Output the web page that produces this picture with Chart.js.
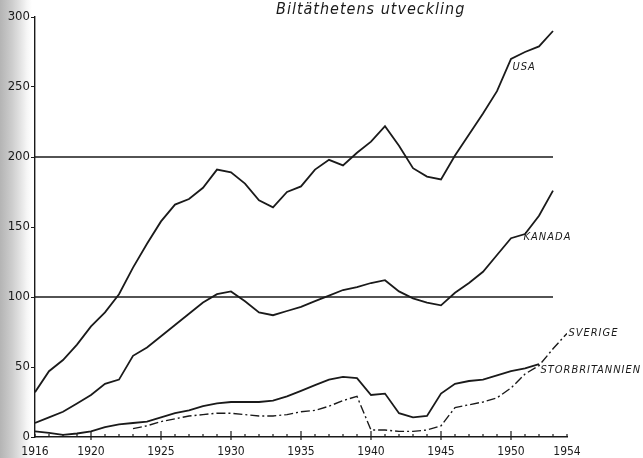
<!DOCTYPE html>
<html>
<head>
<meta charset="utf-8">
<script src="https://cdn.jsdelivr.net/npm/chart.js@4.4.1/dist/chart.umd.min.js"></script>
<style>
    html, body { margin: 0; padding: 0; }
    body {
        width: 643px; height: 458px; overflow: hidden;
        background: linear-gradient(to right, #b4b4b4 0px, #cdcdcd 12px, #e2e2e2 20px, #f6f6f6 27px, #ffffff 32px);
    }
    #wrap { position: relative; width: 643px; height: 458px; }
</style>
</head>
<body>
<div id="wrap"><canvas id="chart" width="643" height="458"></canvas></div>
<script>
// Biltäthetens utveckling (bilar per 1000 invånare)
const years = [1916, 1917, 1918, 1919, 1920, 1921, 1922, 1923, 1924, 1925, 1926, 1927, 1928,
    1929, 1930, 1931, 1932, 1933, 1934, 1935, 1936, 1937, 1938, 1939, 1940, 1941, 1942,
    1943, 1944, 1945, 1946, 1947, 1948, 1949, 1950, 1951, 1952, 1953];

const usa = [32, 47, 55, 66, 79, 89, 102, 121, 138, 154, 166, 170, 178,
    191, 189, 181, 169, 164, 175, 179, 191, 198, 194, 203, 211, 222, 208,
    192, 186, 184, 201, 216, 231, 247, 270, 275, 279, 290];

const kanada = [10, 14, 18, 24, 30, 38, 41, 58, 64, 72, 80, 88, 96,
    102, 104, 97, 89, 87, 90, 93, 97, 101, 105, 107, 110, 112, 104,
    99, 96, 94, 103, 110, 118, 130, 142, 145, 158, 176];

const storbritannien = [4, 3, 1.5, 2.5, 4, 7, 9, 10, 11, 14, 17, 19, 22,
    24, 25, 25, 25, 26, 29, 33, 37, 41, 43, 42, 30, 31, 17,
    14, 15, 31, 38, 40, 41, 44, 47, 49, 52, null];

const sverigeYears = [1923, 1924, 1925, 1926, 1927, 1928, 1929, 1930, 1931, 1932, 1933, 1934,
    1935, 1936, 1937, 1938, 1939, 1940, 1941, 1942, 1943, 1944, 1945, 1946, 1947, 1948,
    1949, 1950, 1951, 1952, 1953, 1954];
const sverige = [6, 8, 11, 13, 15, 16, 17, 17, 16, 15, 15, 16,
    18, 19, 22, 26, 29, 5, 5, 4, 4, 5, 8, 21, 23, 25,
    28, 35, 45, 51, 63, 74];

const refLevels = [100, 200];
const refSpan = [1916, 1953];

const yTicks = [0, 50, 100, 150, 200, 250, 300];
const xLabelYears = [1916, 1920, 1925, 1930, 1935, 1940, 1945, 1950, 1954];

const seriesNames = ['USA', 'KANADA', 'SVERIGE', 'STORBRITANNIEN'];
const nameAnchorX = [1950.1, 1950.9, 1954.1, 1952.1];
const nameAnchorY = [264, 143, 74, 48];

const INK = '#1a1a1a';
const HAND = '"DejaVu Sans Condensed", "DejaVu Sans", sans-serif';

function pairs(xs, ys) {
    return xs.map((x, i) => ({ x: x, y: ys[i] })).filter((p) => p.y !== null);
}

const datasets = [
    { label: 'USA', data: pairs(years, usa), borderColor: INK, borderWidth: 1.8 },
    { label: 'Kanada', data: pairs(years, kanada), borderColor: INK, borderWidth: 1.8 },
    { label: 'Storbritannien', data: pairs(years, storbritannien), borderColor: INK, borderWidth: 1.8 },
    { label: 'Sverige', data: pairs(sverigeYears, sverige), borderColor: INK, borderWidth: 1.4,
      borderDash: [9, 3, 2, 3] },
];
refLevels.forEach((lvl) => {
    datasets.push({ label: 'ref' + lvl, data: refSpan.map((x) => ({ x: x, y: lvl })),
        borderColor: INK, borderWidth: 1.3 });
});

// small upward ticks on the year axis, longer every 5th year
const yearTicks = {
    id: 'yearTicks',
    afterDraw(chart) {
        const ctx = chart.ctx;
        const xs = chart.scales.x;
        const base = chart.scales.y.getPixelForValue(0);
        ctx.save();
        ctx.strokeStyle = INK;
        ctx.lineWidth = 1.2;
        for (let yr = 1916; yr <= 1954; yr++) {
            const px = xs.getPixelForValue(yr);
            const big = yr % 5 === 0;
            ctx.beginPath();
            ctx.moveTo(px, base - (big ? 6 : 3));
            ctx.lineTo(px, base + (big ? 3 : 0));
            ctx.stroke();
        }
        ctx.restore();
    },
};

// hand lettering: title and series names
const lettering = {
    id: 'lettering',
    afterDraw(chart) {
        const ctx = chart.ctx;
        const xs = chart.scales.x;
        const ys = chart.scales.y;
        ctx.save();
        ctx.fillStyle = INK;
        ctx.textBaseline = 'middle';
        ctx.textAlign = 'left';
        ctx.letterSpacing = '1px';
        ctx.font = 'oblique 16px ' + HAND;
        ctx.fillText('Biltäthetens utveckling', 276, 10);
        ctx.font = 'oblique 11px ' + HAND;
        seriesNames.forEach((name, i) => {
            ctx.fillText(name, xs.getPixelForValue(nameAnchorX[i]), ys.getPixelForValue(nameAnchorY[i]));
        });
        ctx.restore();
    },
};

new Chart(document.getElementById('chart'), {
    type: 'line',
    data: { datasets: datasets },
    options: {
        responsive: false,
        animation: false,
        layout: { padding: { top: 17, right: 76, left: 0, bottom: 0 } },
        elements: {
            point: { radius: 0 },
            line: { tension: 0, fill: false },
        },
        plugins: {
            legend: { display: false },
            tooltip: { enabled: false },
        },
        scales: {
            x: {
                type: 'linear',
                min: 1916,
                max: 1954,
                afterBuildTicks: (s) => { s.ticks = xLabelYears.map((v) => ({ value: v })); },
                afterFit: (s) => { s.height = 21; },
                grid: { display: false },
                border: { display: true, color: INK, width: 1.4 },
                ticks: {
                    color: INK,
                    padding: 0,
                    maxRotation: 0,
                    autoSkip: false,
                    font: { family: HAND, size: 12 },
                    callback: (v) => String(v),
                },
            },
            y: {
                min: 0,
                max: 300,
                afterBuildTicks: (s) => { s.ticks = yTicks.map((v) => ({ value: v })); },
                afterFit: (s) => { s.width = 35; },
                grid: { drawOnChartArea: false, drawTicks: true, tickLength: 4, color: INK },
                border: { display: true, color: INK, width: 1.4 },
                ticks: {
                    color: INK,
                    padding: 1,
                    font: { family: HAND, size: 13 },
                },
            },
        },
    },
    plugins: [yearTicks, lettering],
});
</script>
</body>
</html>
